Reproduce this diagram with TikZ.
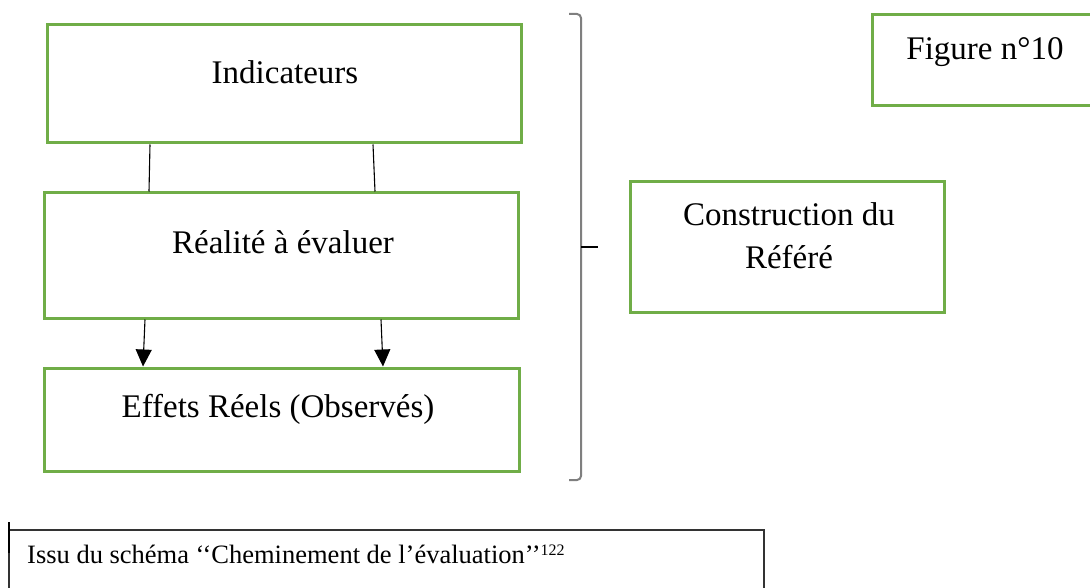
\documentclass[tikz,border=0pt]{standalone}
\usepackage{fontspec}
\setmainfont{Liberation Serif}
\usetikzlibrary{arrows.meta,calc}
\definecolor{boxgreen}{HTML}{70AD47}
\definecolor{brackgrey}{HTML}{7F7F7F}
\begin{document}
\begin{tikzpicture}[x=1pt,y=-1pt,
  gbox/.style={draw=boxgreen,line width=3pt,fill=white,inner sep=0pt,rectangle},
  lbl/.style={inner sep=0pt,anchor=base,font=\fontsize{33}{43}\selectfont},
  conn/.style={draw=black,line width=1.1pt},
  arr/.style={conn,-{Triangle[length=17pt,width=16pt]}},
  srcbox/.style={draw=black!80,line width=1.3pt,inner sep=0pt,rectangle}]
\useasboundingbox[fill=white] (0,0) rectangle (1090,588);
% boxes
\node[gbox,minimum width=474pt,minimum height=118pt] (ind) at (284,84) {};
\node[gbox,minimum width=474pt,minimum height=125pt] (rea) at (281,255.5) {};
\node[gbox,minimum width=475pt,minimum height=103pt] (eff) at (281.5,419.5) {};
\node[gbox,minimum width=314pt,minimum height=130pt] (con) at (787,247) {};
\node[gbox,minimum width=228pt,minimum height=91pt] (fig) at (986,60.5) {};
\node[srcbox,minimum width=755pt,minimum height=70pt] (src) at (386.5,565) {};
% texts
\node[lbl] (tind) at (285,84) {Indicateurs};
\node[lbl] (trea) at (283,254) {Réalité à évaluer};
\node[lbl] (teff) at (278,417) {Effets Réels (Observés)};
\node[lbl] (tcon1) at (789,226) {Construction du};
\node[lbl] (tcon2) at (789,269) {Référé};
\node[lbl] (tfig) at (985,60) {Figure n°10};
\node[inner sep=0pt,anchor=base west,font=\fontsize{26.5}{30}\selectfont] (tsrc) at (27,563)
  {Issu du schéma ‘‘Cheminement de l’évaluation’’\raisebox{8pt}{\fontsize{16}{18}\selectfont 122}};
% connectors
\draw[conn] (150,0 |- ind.south) -- (149,0 |- rea.north);
\draw[conn] (373,0 |- ind.south) -- (375,0 |- rea.north);
\draw[arr] (145,0 |- rea.south) -- (143,0 |- eff.north);
\draw[arr] (381,0 |- rea.south) -- (383,0 |- eff.north);
% bracket
\coordinate (btop) at (569,14);
\coordinate (bbot) at (569,480);
\coordinate (bmid) at (581,247);
\coordinate (btip) at (598,247);
\draw[brackgrey,line width=2pt] (btop) -- (577,14) to[out=0,in=90] (581,18) -- (581,476) to[out=-90,in=0] (577,480) -- (bbot);
\draw[black,line width=1.3pt] (bmid) -- (btip);
% left tick of the source box
\coordinate (tk1) at (9,522);
\coordinate (tk2) at (9,553);
\draw[black,line width=2.5pt] (tk1) -- (tk2);
\end{tikzpicture}
\end{document}
